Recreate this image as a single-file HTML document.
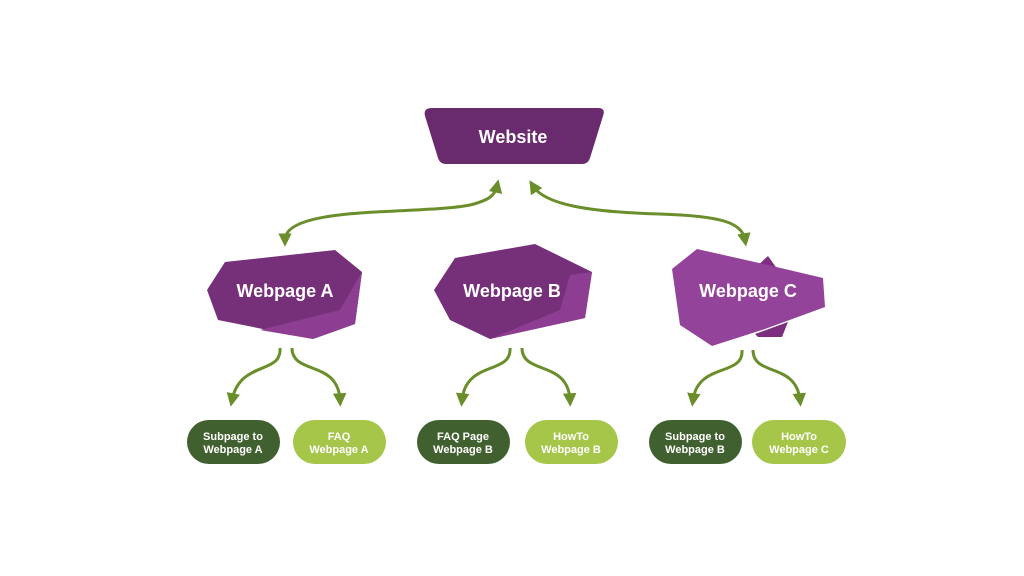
<!DOCTYPE html>
<html><head><style>
html,body{margin:0;padding:0;background:#fff;}
svg{display:block;}
text{font-family:"Liberation Sans",sans-serif;font-weight:bold;fill:#fff;text-anchor:middle;}
</style></head><body>
<svg width="1024" height="576" viewBox="0 0 1024 576" xmlns="http://www.w3.org/2000/svg">
<defs>
<marker id="ah" viewBox="0 0 10 10" refX="5" refY="5" markerWidth="4.5" markerHeight="4.5" orient="auto-start-reverse" markerUnits="strokeWidth">
<path d="M0,0 L10,5 L0,10 z" fill="#6a8e2a"/></marker>
</defs>
<path d="M432,108 L598,108 Q606,108 603,116 L590,158 Q588,164 582,164 L446,164 Q440,164 438,158 L425,116 Q423,108 432,108 Z" fill="#6a2a6e"/>
<text x="513" y="143" font-size="18">Website</text>
<g fill="none" stroke="#6a8e2a" stroke-width="3">
<path d="M285,240 C285,205 420,215 470,205 C490,200 495,195 497,186" marker-end="url(#ah)" marker-start="url(#ah)"/>
<path d="M533,186 C545,205 590,212 660,214 C720,216 742,222 745,240" marker-end="url(#ah)" marker-start="url(#ah)"/>
<path d="M280,348 C282,375 240,360 232,400" marker-end="url(#ah)"/>
<path d="M292,348 C292,375 338,360 340,400" marker-end="url(#ah)"/>
<path d="M510,348 C512,375 466,360 462,400" marker-end="url(#ah)"/>
<path d="M522,348 C522,375 568,360 570,400" marker-end="url(#ah)"/>
<path d="M742,350 C744,377 698,362 693,400" marker-end="url(#ah)"/>
<path d="M753,350 C753,377 796,362 800,400" marker-end="url(#ah)"/>
</g>
<polygon points="207,290 225,262 335,250 362,272 355,324 313,339 218,320" fill="#76307a"/>
<polygon points="362,272 355,324 313,339 260,330 340,310" fill="#8e3e92"/>
<text x="285" y="297" font-size="18">Webpage A</text>
<polygon points="434,290 455,258 535,244 592,272 585,318 490,339 450,320" fill="#76307a"/>
<polygon points="592,272 585,318 490,339 560,310 570,275" fill="#8e3e92"/>
<text x="512" y="297" font-size="18">Webpage B</text>
<polygon points="755,268 768,256 778,270" fill="#7e2e80"/>
<polygon points="755,334 788,322 782,337 758,337" fill="#7e2e80"/>
<polygon points="672,269 697,249 768,265 823,278 825,307 765,329 712,346 680,325" fill="#94439a"/>
<text x="748" y="297" font-size="18">Webpage C</text>
<rect x="187" y="420" width="93" height="44" rx="22" fill="#41602f"/>
<rect x="293" y="420" width="93" height="44" rx="22" fill="#a6c64a"/>
<rect x="417" y="420" width="93" height="44" rx="22" fill="#41602f"/>
<rect x="525" y="420" width="93" height="44" rx="22" fill="#a6c64a"/>
<rect x="649" y="420" width="93" height="44" rx="22" fill="#41602f"/>
<rect x="752" y="420" width="94" height="44" rx="22" fill="#a6c64a"/>
<g font-size="11">
<text x="233" y="440">Subpage to</text><text x="233" y="453">Webpage A</text>
<text x="339" y="440">FAQ</text><text x="339" y="453">Webpage A</text>
<text x="463" y="440">FAQ Page</text><text x="463" y="453">Webpage B</text>
<text x="571" y="440">HowTo</text><text x="571" y="453">Webpage B</text>
<text x="695" y="440">Subpage to</text><text x="695" y="453">Webpage B</text>
<text x="799" y="440">HowTo</text><text x="799" y="453">Webpage C</text>
</g>
</svg>
</body></html>
